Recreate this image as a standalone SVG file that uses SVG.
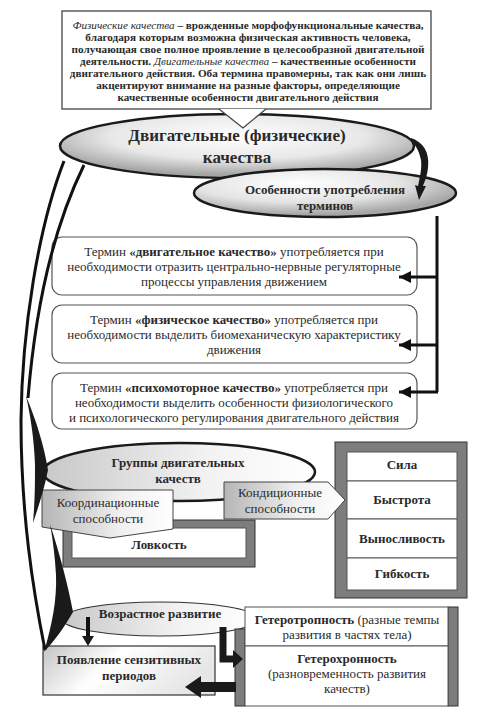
<svg xmlns="http://www.w3.org/2000/svg" width="500" height="711" viewBox="0 0 500 711">
<style>
text{font-family:"Liberation Serif","Times New Roman",serif;fill:#2a2a2a;text-anchor:middle}
.t12{font-size:11.2px;font-weight:bold}
.t13{font-size:13px}
.b{font-weight:bold}
.i{font-style:italic;font-weight:normal}
.big{font-size:17px;font-weight:bold}
.ell{stroke:#1a1a1a;stroke-width:2.5}
.rbox{fill:#fff;stroke:#555;stroke-width:1.2}
.frame{fill:#7d7d7d;stroke:#333;stroke-width:1}
.cell{fill:#fff;stroke:#555;stroke-width:1}
.ln{fill:none;stroke:#111}
.blk{fill:#1a1a1a}
</style>
<defs>
<radialGradient id="gBig" cx="50%" cy="35%" r="60%">
<stop offset="0" stop-color="#ffffff"/><stop offset="0.6" stop-color="#e8e8e8"/><stop offset="1" stop-color="#a4a4a4"/>
</radialGradient>
<radialGradient id="gOs" cx="40%" cy="30%" r="65%">
<stop offset="0" stop-color="#ffffff"/><stop offset="0.6" stop-color="#e4e4e4"/><stop offset="1" stop-color="#a6a6a6"/>
</radialGradient>
<linearGradient id="gGr" x1="0" y1="0" x2="1" y2="0">
<stop offset="0" stop-color="#c8c8c8"/><stop offset="0.6" stop-color="#f2f2f2"/><stop offset="1" stop-color="#ffffff"/>
</linearGradient>
<linearGradient id="gKo" x1="0" y1="0" x2="1" y2="0">
<stop offset="0" stop-color="#b5b5b5"/><stop offset="0.6" stop-color="#f0f0f0"/><stop offset="1" stop-color="#ffffff"/>
</linearGradient>
<linearGradient id="gPo" x1="0" y1="0" x2="1" y2="0.3">
<stop offset="0" stop-color="#c4c4c4"/><stop offset="0.45" stop-color="#ffffff"/><stop offset="1" stop-color="#e6e6e6"/>
</linearGradient>
<marker id="ah" viewBox="0 0 10 10" refX="10" refY="5" markerWidth="12" markerHeight="12" markerUnits="userSpaceOnUse" orient="auto">
<path d="M0,0 L10,5 L0,10 Z" fill="#111"/>
</marker>
</defs>

<g id="node-definition">
<rect x="62" y="11" width="369" height="98" fill="#fff" stroke="#444" stroke-width="1.3"/>
<text class="t12" x="248" y="29"><tspan class="i">Физические качества</tspan> – врожденные морфофункциональные качества,</text>
<text class="t12" x="248" y="41">благодаря которым возможна физическая активность человека,</text>
<text class="t12" x="248" y="53">получающая свое полное проявление в целесообразной двигательной</text>
<text class="t12" x="248" y="65">деятельности. <tspan class="i">Двигательные качества</tspan> – качественные особенности</text>
<text class="t12" x="248" y="77">двигательного действия. Оба термина правомерны, так как они лишь</text>
<text class="t12" x="248" y="89">акцентируют внимание на разные факторы, определяющие</text>
<text class="t12" x="248" y="101">качественные особенности двигательного действия</text>
</g>

<g id="node-main">
<ellipse class="ell" cx="237" cy="146" rx="177" ry="32" fill="url(#gBig)"/>
<polygon points="219,109 243,128 266,109" fill="#fff"/>
<polyline points="219,109 243,128 266,109" fill="none" stroke="#444" stroke-width="1.3"/>
<text class="big" x="237" y="141">Двигательные (физические)</text>
<text class="big" x="237" y="163">качества</text>
</g>

<g id="node-terms">
<ellipse class="ell" cx="325" cy="193" rx="131" ry="24" fill="url(#gOs)"/>
<text class="t13 b" x="325" y="194">Особенности употребления</text>
<text class="t13 b" x="325" y="210">терминов</text>
</g>

<g id="node-term1">
<rect class="rbox" x="52" y="237" width="365" height="58" rx="10"/>
<text class="t13" x="234" y="256">Термин <tspan class="b">«двигательное качество»</tspan> употребляется при</text>
<text class="t13" x="234" y="271">необходимости отразить центрально-нервные регуляторные</text>
<text class="t13" x="234" y="286">процессы управления движением</text>
</g>

<g id="node-term2">
<rect class="rbox" x="52" y="305" width="365" height="58" rx="10"/>
<text class="t13" x="234" y="324">Термин <tspan class="b">«физическое  качество»</tspan> употребляется при</text>
<text class="t13" x="234" y="339">необходимости выделить биомеханическую характеристику</text>
<text class="t13" x="234" y="354">движения</text>
</g>

<g id="node-term3">
<rect class="rbox" x="52" y="373" width="365" height="56" rx="10"/>
<text class="t13" x="234" y="392">Термин <tspan class="b">«психомоторное качество»</tspan> употребляется при</text>
<text class="t13" x="234" y="407">необходимости выделить особенности физиологического</text>
<text class="t13" x="234" y="422">и психологического регулирования двигательного действия</text>
</g>

<g id="node-conditional-list">
<rect class="frame" x="335" y="442" width="132" height="156"/>
<rect class="cell" x="347" y="452" width="110" height="29"/>
<rect class="cell" x="347" y="481" width="110" height="38"/>
<rect class="cell" x="347" y="519" width="110" height="39"/>
<rect class="cell" x="347" y="558" width="110" height="32"/>
<text class="t13 b" x="402" y="469">Сила</text>
<text class="t13 b" x="402" y="504">Быстрота</text>
<text class="t13 b" x="402" y="543">Выносливость</text>
<text class="t13 b" x="402" y="578">Гибкость</text>
</g>

<g id="node-agility">
<rect class="frame" x="63" y="520" width="192" height="47"/>
<rect class="cell" x="72" y="528" width="174" height="30"/>
<text class="t13 b" x="159" y="549">Ловкость</text>
</g>

<g id="node-groups">
<ellipse class="ell" cx="179" cy="472" rx="136" ry="29" fill="url(#gGr)"/>
<text class="t13 b" x="178" y="467">Группы двигательных</text>
<text class="t13 b" x="178" y="483">качеств</text>
</g>

<g id="node-coordination">
<polygon points="42,490 173,490 173,529 110,538 42,527" fill="url(#gKo)" stroke="#444" stroke-width="1"/>
<text class="t13" x="108" y="507">Координационные</text>
<text class="t13" x="108" y="523">способности</text>
</g>

<g id="node-conditioning">
<polygon points="224,482 328,482 345,500 328,519 224,519" fill="url(#gKo)" stroke="#444" stroke-width="1"/>
<text class="t13" x="280" y="497">Кондиционные</text>
<text class="t13" x="280" y="513">способности</text>
</g>

<g id="node-age">
<ellipse cx="160" cy="619" rx="98" ry="17" fill="url(#gGr)" stroke="#333" stroke-width="1.2"/>
<text class="t13 b" x="160" y="618">Возрастное развитие</text>
</g>

<g id="node-sensitive">
<rect x="43" y="646" width="172" height="49" fill="url(#gPo)" stroke="#333" stroke-width="1.2"/>
<text class="t13 b" x="129" y="664">Появление сензитивных</text>
<text class="t13 b" x="129" y="680">периодов</text>
</g>

<g id="node-hetero">
<rect class="frame" x="448" y="607" width="10" height="99"/>
<rect class="frame" x="235" y="629" width="10" height="77"/>
<rect class="cell" x="245" y="607" width="203" height="39"/>
<rect class="cell" x="245" y="646" width="203" height="60"/>
<text class="t13" x="347" y="624"><tspan class="b">Гетеротропность</tspan> (разные темпы</text>
<text class="t13" x="347" y="639">развития в частях тела)</text>
<text class="t13 b" x="347" y="663">Гетерохронность</text>
<text class="t13" x="347" y="678">(разновременность развития</text>
<text class="t13" x="347" y="693">качеств)</text>
</g>

<g id="connectors">
<path class="blk" d="M411,138 C423,142 430,152 428,168 C427,176 425,181 423,186 L426,186 L419,200 L415,185 L418,186 C420,177 422,168 421,160 C419,151 416,145 411,141 Z"/>
<path class="ln" stroke-width="3" d="M437,216 L437,392"/>
<path class="ln" stroke-width="3" d="M437,277 L399,277" marker-end="url(#ah)"/>
<path class="ln" stroke-width="3" d="M437,345 L399,345" marker-end="url(#ah)"/>
<path class="ln" stroke-width="3" d="M438,392 L399,392" marker-end="url(#ah)"/>
<path class="ln" stroke-width="3" d="M64,161 C38,228 22,330 21,420 C21,515 33,590 45,650"/>
<path class="ln" stroke-width="3" d="M84,165 C56,222 36,300 28,398"/>
<path class="blk" d="M26,396 C36,420 44,445 48,470 C44,490 38,508 33,523 C35,500 35,482 35,465 C34,440 31,418 26,396 Z"/>
<path class="blk" d="M50,524 C60,555 68,585 73,612 C64,628 55,640 44,652 C52,625 57,600 56,575 C55,558 53,540 50,524 Z"/>
<path class="ln" stroke-width="4" d="M88,617 L88,637"/>
<polygon class="blk" points="82,636 94,636 88,646"/>
<polyline points="223,627 223,659 234,659" fill="none" stroke="#1a1a1a" stroke-width="7"/>
<polygon class="blk" points="233,650 243,659 233,668"/>
<rect class="blk" x="199" y="682" width="37" height="10"/>
<polygon class="blk" points="201,676 185,687 201,698"/>
</g>
</svg>
